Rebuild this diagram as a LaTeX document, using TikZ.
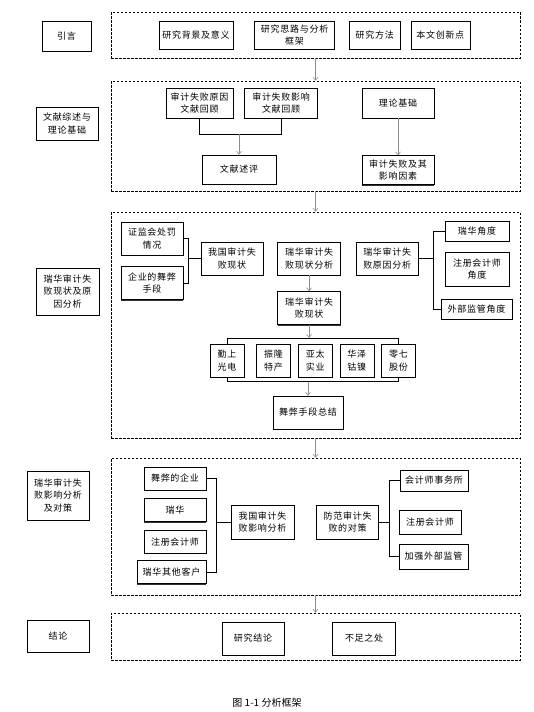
\documentclass[tikz,border=0pt]{standalone}
\usepackage{fontspec}
\newfontfamily\cjk[LetterSpace=8]{Noto Sans CJK SC}
\newfontfamily\capfont{Noto Sans CJK SC}
\usepackage{tikz}
\usetikzlibrary{arrows.meta, positioning, shadows}

\begin{document}
\begin{tikzpicture}[
  x=1pt, y=-1pt,
  every node/.style={align=center},
  box/.style={draw, fill=white, line width=0.6pt, inner sep=1pt,
    font=\cjk\fontsize{9}{12.5}\selectfont,
    general shadow={fill=black!80, shadow xshift=0.3pt, shadow yshift=-1.2pt}},
  dframe/.style={draw, line width=0.7pt, dash pattern=on 2.5pt off 1.5pt},
  arr/.style={-{Straight Barb[length=3pt, width=5pt]}, draw=black!45, line width=0.6pt},
  lnk/.style={draw=black, line width=0.8pt},
]
\useasboundingbox (0,0) rectangle (533,712);

\node[dframe, minimum width=409pt, minimum height=46pt] (f1) at (315.5,35) {};
\node[dframe, minimum width=409pt, minimum height=110pt] (f2) at (315.5,136) {};
\node[dframe, minimum width=409pt, minimum height=226pt] (f3) at (315.5,325) {};
\node[dframe, minimum width=409pt, minimum height=137pt] (f4) at (315.5,526.5) {};
\node[dframe, minimum width=409pt, minimum height=47pt] (f5) at (315.5,636.5) {};
\draw[arr] (f1.south) -- (f2.north);
\draw[arr] (f2.south) -- (f3.north);
\draw[arr] (f3.south) -- (f4.north);
\draw[arr] (f4.south) -- (f5.north);

% intro
\node[box, minimum width=49pt, minimum height=30pt] (intro) at (66.5,36) {引言};
\node[box, minimum width=74pt, minimum height=28pt] (bg) at (196,35) {研究背景及意义};
\node[box, minimum width=80pt, minimum height=28pt, right=21pt of bg] (idea) {研究思路与分析\\框架};
\node[box, minimum width=51pt, minimum height=28pt, right=14pt of idea] (method) {研究方法};
\node[box, minimum width=59pt, minimum height=28pt, right=10pt of method] (innov) {本文创新点};

% literature
\node[box, minimum width=62pt, minimum height=33pt] (lit) at (67,123.5) {文献综述与\\理论基础};
\node[box, minimum width=67pt, minimum height=30pt] (rev1) at (199.5,103) {审计失败原因\\文献回顾};
\node[box, minimum width=73pt, minimum height=30pt, right=11pt of rev1] (rev2) {审计失败影响\\文献回顾};
\node[box, minimum width=72pt, minimum height=30pt] (theory) at (398,103) {理论基础};
\node[box, minimum width=74pt, minimum height=29pt] (review) at (239,169.5) {文献述评};
\node[box, minimum width=72pt, minimum height=29pt, below=37pt of theory] (factor) {审计失败及其\\影响因素};
\draw[lnk] (rev1.south) -- ++(0,16) coordinate (j1) -| (rev2.south);
\draw[arr] (j1 -| review.north) -- (review.north);
\draw[arr] (theory) -- (factor);

% status and causes
\node[box, minimum width=63pt, minimum height=47pt] (ana) at (67.5,291.5) {瑞华审计失\\败现状及原\\因分析};
\node[box, minimum width=62pt, minimum height=33pt] (csrc) at (152,238.5) {证监会处罚\\情况};
\node[box, minimum width=62pt, minimum height=33pt, below=11pt of csrc] (fraud) {企业的舞弊\\手段};
\node[box, minimum width=62pt, minimum height=33pt] (cnst) at (232,258.5) {我国审计失\\败现状};
\node[box, minimum width=63pt, minimum height=33pt, right=14pt of cnst] (rhan) {瑞华审计失\\败现状分析};
\node[box, minimum width=63pt, minimum height=33pt, below=16pt of rhan] (rhst) {瑞华审计失\\败现状};
\node[box, minimum width=62pt, minimum height=33pt, right=15pt of rhan] (rhcause) {瑞华审计失\\败原因分析};
\node[box, minimum width=64pt, minimum height=20pt] (arh) at (477,231) {瑞华角度};
\node[box, minimum width=64pt, minimum height=34pt] (acpa) at (477,269) {注册会计师\\角度};
\node[box, minimum width=71pt, minimum height=20pt] (areg) at (476.5,309) {外部监管角度};
\draw[lnk] (csrc.east) -- ++(5,0) coordinate (b1) |- (fraud.east);
\draw[lnk] (b1 |- cnst.west) -- (cnst.west);
\draw[arr] (rhan) -- (rhst);
\draw[lnk] (rhcause.east) -- ++(15,0) coordinate (b2);
\draw[lnk] (arh.west) -| (b2) |- (areg.west);

\node[box, minimum width=34pt, minimum height=33pt] (c1) at (227,360.5) {勤上\\光电};
\node[box, minimum width=34pt, minimum height=33pt, right=12pt of c1] (c2) {振隆\\特产};
\node[box, minimum width=34pt, minimum height=33pt, right=7pt of c2] (c3) {亚太\\实业};
\node[box, minimum width=34pt, minimum height=33pt, right=7pt of c3] (c4) {华泽\\钴镍};
\node[box, minimum width=34pt, minimum height=33pt, right=7pt of c4] (c5) {零七\\股份};
\node[box, minimum width=70pt, minimum height=33pt] (summ) at (308,412.5) {舞弊手段总结};
\path (rhst.south) ++(0,13) coordinate (b3);
\path (summ.north) ++(0,-14) coordinate (b4);
\draw[arr] (rhst) -- (b3);
\draw[lnk] (c1.north) |- (b3) -| (c5.north);
\draw[lnk] (c1.south) |- (b4) -| (c5.south);
\draw[arr] (b4) -- (summ);

% impact and countermeasures
\node[box, minimum width=62pt, minimum height=49pt] (eff) at (58,495.5) {瑞华审计失\\败影响分析\\及对策};
\node[box, minimum width=62pt, minimum height=23pt] (e1) at (175,478.5) {舞弊的企业};
\node[box, minimum width=62pt, minimum height=23pt, below=8pt of e1] (e2) {瑞华};
\node[box, minimum width=62pt, minimum height=23pt, below=8pt of e2] (e3) {注册会计师};
\node[box, minimum width=69pt, minimum height=23pt] (e4) at (171.5,572) {瑞华其他客户};
\node[box, minimum width=63pt, minimum height=34pt] (cneff) at (262.5,522) {我国审计失\\败影响分析};
\node[box, minimum width=62pt, minimum height=34pt, right=22pt of cneff] (counter) {防范审计失\\败的对策};
\node[box, minimum width=68pt, minimum height=21pt] (m1) at (434,480.5) {会计师事务所};
\node[box, minimum width=62pt, minimum height=24pt] (m2) at (430,522) {注册会计师};
\node[box, minimum width=69pt, minimum height=25pt] (m3) at (433.5,556.5) {加强外部监管};
\path (cneff.west) ++(-14,0) coordinate (b5);
\path (counter.east) ++(10,0) coordinate (b6);
\draw[lnk] (e1.east) -| (b5) |- (e4.east);
\draw[lnk] (b5) -- (cneff);
\draw[lnk] (m1.west) -| (b6) |- (m3.west);
\draw[lnk] (counter) -- (b6);

% conclusion
\node[box, minimum width=62pt, minimum height=32pt] (concl) at (58,636) {结论};
\node[box, minimum width=62pt, minimum height=33pt] (res) at (253,638.5) {研究结论};
\node[box, minimum width=63pt, minimum height=33pt, right=48pt of res] (lack) {不足之处};

\node[font=\capfont\fontsize{10}{12}\selectfont] (cap) at (267,703) {图 1-1 分析框架};

\end{tikzpicture}
\end{document}
